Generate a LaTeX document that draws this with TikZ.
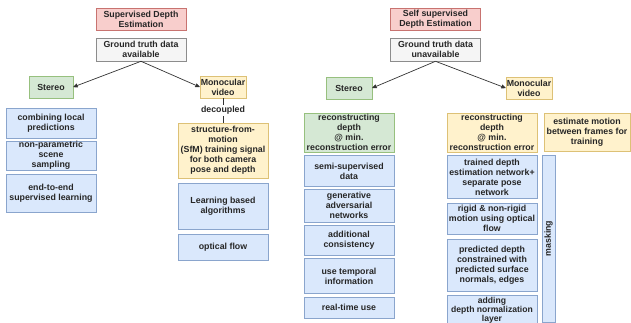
\documentclass[tikz,border=0pt]{standalone}
\usepackage{fontspec}
\setmainfont{Liberation Sans}
\usetikzlibrary{arrows}
\usetikzlibrary{positioning}

\definecolor{redfill}{HTML}{F8CECC}
\definecolor{redline}{HTML}{C87370}
\definecolor{greyfill}{HTML}{F5F5F5}
\definecolor{greyline}{HTML}{8C8C8C}
\definecolor{greenfill}{HTML}{D5E8D4}
\definecolor{greenline}{HTML}{97C07E}
\definecolor{yellowfill}{HTML}{FFF2CC}
\definecolor{yellowline}{HTML}{DDC176}
\definecolor{bluefill}{HTML}{DAE8FC}
\definecolor{blueline}{HTML}{8AA5CD}
\definecolor{inkgrey}{HTML}{333333}

\begin{document}
\begin{tikzpicture}[x=1pt,y=-1pt,->,>=stealth',line width=0.7pt,draw=inkgrey]
  \tikzstyle{every node}=[font=\bfseries\fontsize{8.8}{10}\selectfont,text=black!85,
                          align=center,inner sep=0pt,line width=0.6pt]
  \tikzstyle{title}=[draw=redline,fill=redfill,minimum width=90pt,minimum height=22pt]
  \tikzstyle{truth}=[draw=greyline,fill=greyfill,minimum width=90pt,minimum height=23pt]
  \tikzstyle{stereo}=[draw=greenline,fill=greenfill,minimum height=22pt]
  \tikzstyle{mono}=[draw=yellowline,fill=yellowfill,minimum height=22pt]
  \tikzstyle{method}=[draw=blueline,fill=bluefill,minimum width=90pt]

  \useasboundingbox (0,0) rectangle (631,323);

  % supervised
  \node[title]  (sde) at (141,19)   {Supervised Depth\\Estimation};
  \node[truth]  (gtl) at (141,49.5) {Ground truth data\\available};
  \node[stereo,minimum width=44pt] (stl) at (51,87)  {Stereo};
  \node[mono,minimum width=46pt]   (mvl) at (223,87) {Monocular\\video};

  \node[method,minimum height=30pt] (cl) at (51,123) {combining local\\predictions};
  \node[method,minimum height=27pt] (np) [below=3pt of cl] {non-parametric\\scene\\sampling};
  \node[method,minimum height=38pt] (ee) [below=4pt of np] {end-to-end\\supervised learning};

  \node[mono,minimum width=90pt,minimum height=55pt] (sfm) at (223,150.5)
       {structure-from-\\motion\\(SfM) training signal\\for both camera\\pose and depth};
  \node[method,minimum height=46pt] (lb) [below=5pt of sfm] {Learning based\\algorithms};
  \node[method,minimum height=26pt] (of) [below=4pt of lb]  {optical flow};

  % self supervised
  \node[title]  (ssde) at (435.5,19)   {Self supervised\\Depth Estimation};
  \node[truth]  (gtr)  at (435.5,49.5) {Ground truth data\\unavailable};
  \node[stereo,minimum width=46pt] (str) at (349,88) {Stereo};
  \node[mono,minimum width=46pt]   (mvr) at (529,88) {Monocular\\video};

  \node[stereo,minimum width=90pt,minimum height=39pt] (rcs) at (349,132.5)
       {reconstructing\\depth\\@ min.\\reconstruction error};
  \node[method,minimum height=31pt] (ss)  [below=3pt of rcs] {semi-supervised\\data};
  \node[method,minimum height=33pt] (gan) [below=2pt of ss]  {generative\\adversarial\\networks};
  \node[method,minimum height=30pt] (ac)  [below=2pt of gan] {additional\\consistency};
  \node[method,minimum height=35pt] (ut)  [below=3pt of ac]  {use temporal\\information};
  \node[method,minimum height=21pt] (rt)  [below=3pt of ut]  {real-time use};

  \node[mono,minimum width=90pt,minimum height=39pt] (rcm) at (492,132.5)
       {reconstructing\\depth\\@ min.\\reconstruction error};
  \node[mono,minimum width=86pt,minimum height=38pt] (em) at (587,132)
       {estimate motion\\between frames for\\training};
  \node[method,minimum height=43pt] (td) [below=3pt of rcm]
       {trained depth\\estimation network+\\separate pose\\network};
  \node[method,minimum height=31pt] (rn) [below=4pt of td]
       {rigid \& non-rigid\\motion using optical\\flow};
  \node[method,minimum height=52pt] (pd) [below=4pt of rn]
       {predicted depth\\constrained with\\predicted surface\\normals, edges};
  \node[method,minimum height=29pt,font=\bfseries\fontsize{8.6}{9}\selectfont] (ad) [below=4pt of pd]
       {adding\\depth normalization\\layer};
  \node[method,rotate=90,minimum width=167pt,minimum height=13pt] (mask) at (548.5,238.5)
       {masking};

  \path (gtl.south) edge (stl.east)
        (gtl.south) edge (mvl.west)
        (gtr.south) edge (str.east)
        (gtr.south) edge (mvr.west);
  \draw[-] (mvl) -- node[fill=white,inner sep=1pt] {decoupled} (sfm);
\end{tikzpicture}
\end{document}
